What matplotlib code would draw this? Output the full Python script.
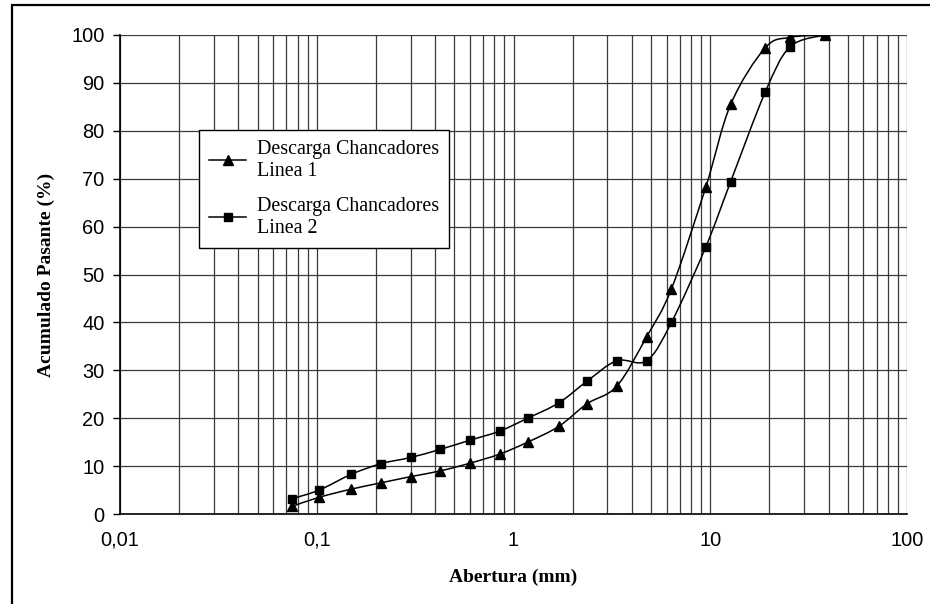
import numpy as np
import matplotlib.pyplot as plt
from matplotlib.path import Path
from matplotlib.patches import PathPatch, Rectangle
from matplotlib.ticker import LogLocator, NullFormatter

# Sieve openings (mm) and cumulative passing (%)
abertura = [0.075, 0.103, 0.15, 0.212, 0.3, 0.425, 0.6, 0.85, 1.18, 1.7,
            2.36, 3.35, 4.75, 6.35, 9.5, 12.7, 19.0, 25.4, 38.1]
linea1 = [1.6, 3.5, 5.2, 6.5, 7.8, 9.0, 10.6, 12.5, 15.0, 18.3,
          23.0, 26.7, 37.0, 47.0, 68.3, 85.5, 97.3, 99.5, 100.0]
linea2 = [3.2, 5.0, 8.3, 10.5, 11.8, 13.5, 15.4, 17.3, 20.0, 23.2,
          27.7, 32.0, 32.0, 40.0, 55.8, 69.4, 88.0, 97.5, 100.0]

label1 = 'Descarga Chancadores\nLinea 1'
label2 = 'Descarga Chancadores\nLinea 2'
xticks = [0.01, 0.1, 1, 10, 100]
xticklabels = ['0,01', '0,1', '1', '10', '100']
yticks = list(range(0, 101, 10))


def smooth_path(xs, ys):
    """Excel-like smoothed line: cubic Bezier through the points (in log-x space)."""
    u = np.log10(np.asarray(xs, float))
    y = np.asarray(ys, float)
    n = len(u)
    verts = [(xs[0], ys[0])]
    codes = [Path.MOVETO]
    for i in range(n - 1):
        a = max(i - 1, 0)
        d = min(i + 2, n - 1)
        c1u = u[i] + (u[i + 1] - u[a]) / 6
        c1y = y[i] + (y[i + 1] - y[a]) / 6
        c2u = u[i + 1] - (u[d] - u[i]) / 6
        c2y = y[i + 1] - (y[d] - y[i]) / 6
        verts += [(10 ** c1u, c1y), (10 ** c2u, c2y), (xs[i + 1], ys[i + 1])]
        codes += [Path.CURVE4] * 3
    return Path(verts, codes)


fig = plt.figure(figsize=(9.3, 6.04), dpi=100)
ax = fig.add_axes([120 / 930, 1 - 514 / 604, 787 / 930, 479 / 604])

ax.set_xscale('log')
ax.set_xlim(0.01, 100)
ax.set_ylim(0, 100)

grid_kw = dict(color='#3a3a3a', lw=0.9)
ax.xaxis.set_minor_locator(LogLocator(base=10, subs=np.arange(2, 10)))
ax.xaxis.set_minor_formatter(NullFormatter())
ax.grid(True, which='major', axis='both', **grid_kw)
ax.grid(True, which='minor', axis='x', **grid_kw)
ax.set_axisbelow(True)

for xs, ys in [(abertura, linea1), (abertura, linea2)]:
    ax.add_patch(PathPatch(smooth_path(xs, ys), fill=False, ec='black', lw=1.1))

ax.plot(abertura, linea1, ls='none', marker='^', ms=6.5, color='black')
ax.plot(abertura, linea2, ls='none', marker='s', ms=5.5, color='black')

# legend handles (line + marker)
h1, = ax.plot([], [], '-^', color='black', lw=1.1, ms=6.5, label=label1)
h2, = ax.plot([], [], '-s', color='black', lw=1.1, ms=5.5, label=label2)
leg = ax.legend(handles=[h1, h2], loc='upper left',
                bbox_to_anchor=(199 / 930, 1 - 130 / 604),
                bbox_transform=fig.transFigure,
                prop={'family': 'Liberation Serif', 'size': 14.4},
                fancybox=False, frameon=True, framealpha=1,
                edgecolor='black', handlelength=1.85, handletextpad=0.55,
                borderpad=0.5, labelspacing=0.8, borderaxespad=0)
leg.get_frame().set_linewidth(1.0)

ax.set_xticks(xticks)
ax.set_xticklabels(xticklabels)
ax.set_yticks(yticks)
for lab in ax.get_xticklabels() + ax.get_yticklabels():
    lab.set_family('Liberation Sans')
    lab.set_fontsize(14.4)
ax.tick_params(axis='x', which='both', length=0, pad=12)
ax.tick_params(axis='y', which='major', length=5, width=1, direction='out', pad=6)

for side in ['top', 'right']:
    ax.spines[side].set_visible(False)
ax.spines['left'].set_linewidth(1.2)
ax.spines['bottom'].set_linewidth(1.2)

ax.set_xlabel('Abertura (mm)', family='Liberation Serif', fontweight='bold',
              fontsize=14, labelpad=14)
ax.set_ylabel('Acumulado Pasante (%)', family='Liberation Serif', fontweight='bold',
              fontsize=14, labelpad=12)

# outer chart border
fig.patches.append(Rectangle((12 / 930, -0.02), 1.0, 1.02 - 5 / 604, fill=False,
                             ec='black', lw=1.6, transform=fig.transFigure,
                             figure=fig))

plt.savefig('out.png', dpi=100)
